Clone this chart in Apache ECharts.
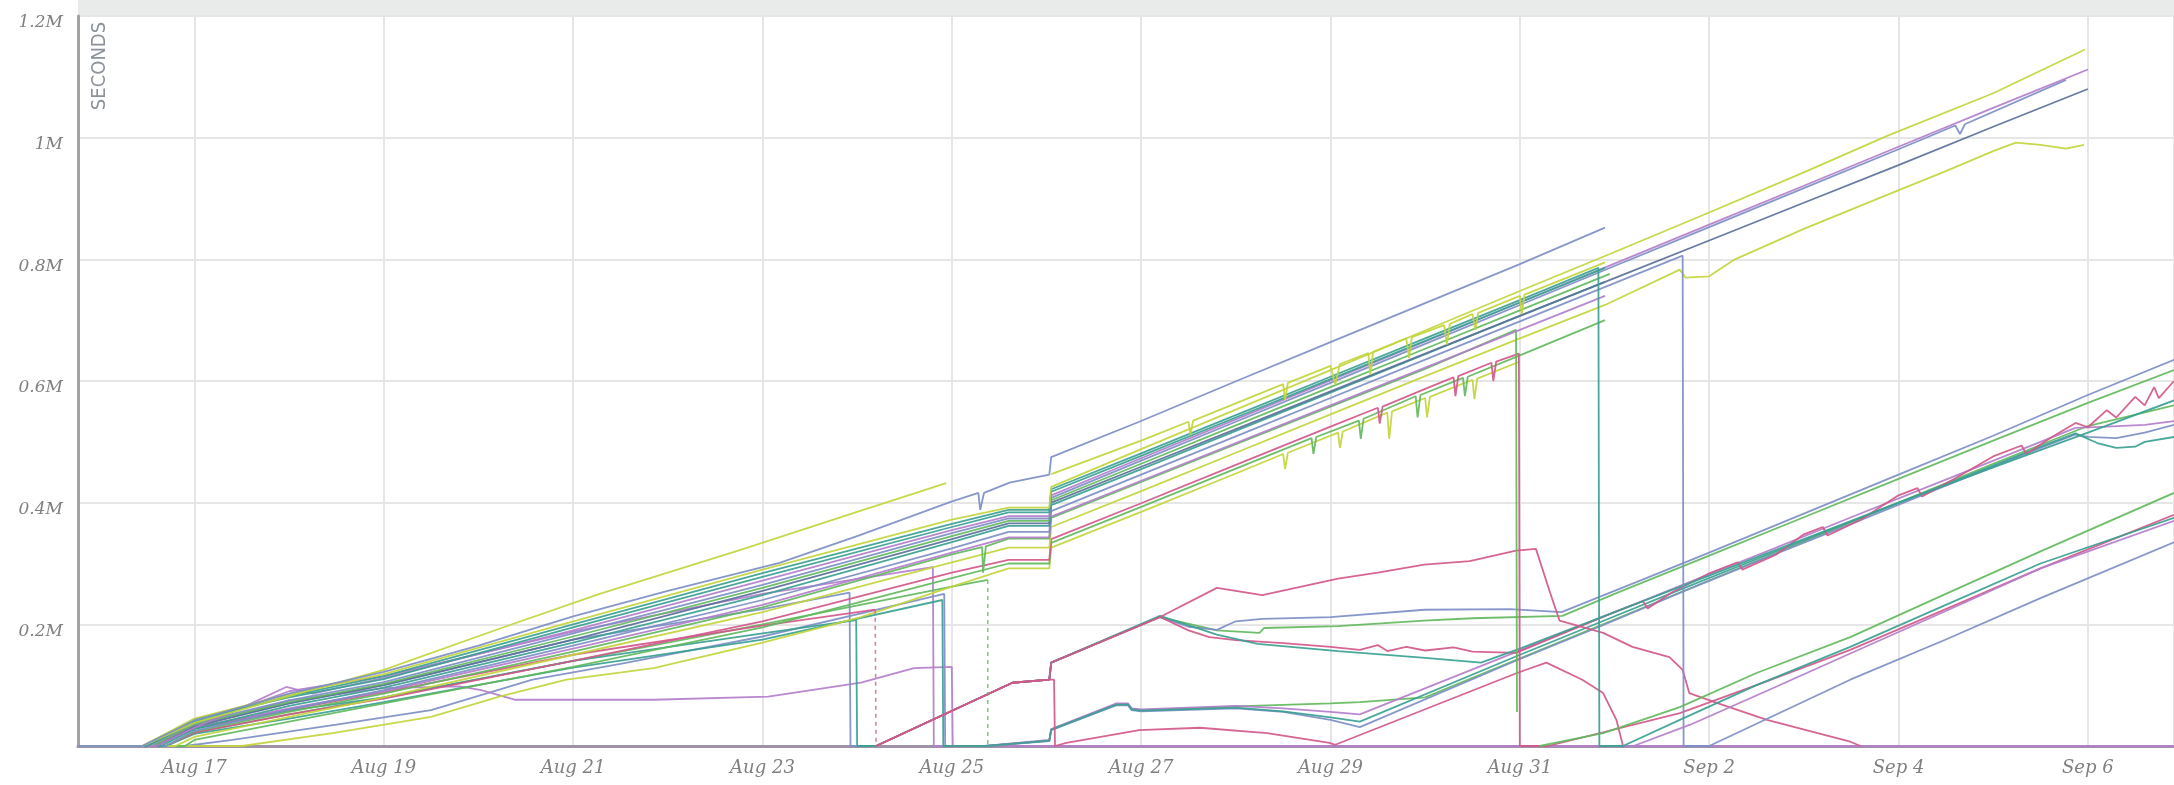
<!DOCTYPE html>
<html>
<head>
<meta charset="utf-8">
<title>Accumulated seconds per run</title>
<script src="https://cdn.jsdelivr.net/npm/echarts@6/dist/echarts.min.js"></script>
<style>
  html, body { margin: 0; padding: 0; background: #ffffff; }
  #chart { width: 2174px; height: 785px; }
</style>
</head>
<body>
<div id="chart"></div>
<script>
// x: days since Aug 1 00:00 (Aug 17 = 16, Sep 1 = 31); y: thousands of seconds
const dateTicks = ['Aug 17', 'Aug 19', 'Aug 21', 'Aug 23', 'Aug 25', 'Aug 27', 'Aug 29', 'Aug 31', 'Sep 2', 'Sep 4', 'Sep 6'];
const valueTicks = ['', '0.2M', '0.4M', '0.6M', '0.8M', '1M', '1.2M'];

// early runs that stop between Aug 23 and Aug 25
const baselinePurple = [[14.77,0],[15.55,0],[16,34],[17,90],[18,115],[20,188],[22,250],[23.8,294],[23.81,0],[36.91,0]];
const topLime = [[14.77,0],[15.45,0],[16,38],[17,82],[18,125],[19.28,196],[20.28,250],[21.76,322],[23,385],[23.94,432]];
const topBlue = [[14.77,0],[15.45,0],[16,42],[17,86],[18,122],[19,165],[20,213],[21,255],[22.18,301],[23,345],[23.98,401],[24.28,416],[24.3,388],[24.34,416],[24.61,433],[25.03,446],[25.05,475],[25.98,533],[27.04,602],[28,664],[29,728],[30,792],[30.9,852]];
const upperSpikyLime = [[25.05,447],[26,502],[26.5,533],[26.52,512],[26.55,535],[27.5,595],[27.52,568],[27.55,597],[28,625],[28.05,594],[28.1,628],[28.4,646],[28.42,610],[28.45,648],[28.8,670],[28.83,638],[28.86,672],[29.2,692],[29.23,660],[29.26,694],[29.5,710],[29.53,684],[29.56,712],[30,740],[30.02,710],[30.05,742],[30.5,770],[30.9,795]];

// main group: step on Aug 26, most stop around Sep 1
const lime01 = [[14.77,0],[15.45,0],[16,45],[17,85],[18,118],[20,205],[22,290],[24,372],[24.6,392],[25.03,392],[25.05,426],[26,488],[27,553],[28,618],[29,683],[30,748],[30.97,810],[32,877],[33,943],[33.88,1003],[35,1073],[35.97,1145]];
const teal02 = [[14.77,0],[15.5,0],[16,40],[17,82],[18,115],[20,200],[22,284],[24,365],[24.6,388],[25.03,388],[25.05,422],[26,481],[27,544],[28,607],[29,670],[30,733],[30.83,786],[30.84,0],[31.09,0],[31.69,43],[32.5,100],[33.49,163],[34.5,232],[35.5,300],[36.91,375]];
const teal03 = [[14.77,0],[15.45,0],[16,44],[17,80],[18,110],[20,195],[22,278],[24,360],[24.6,384],[25.03,384],[25.05,418],[26,477],[27,540],[28,603],[29,666],[30,729],[30.9,786]];
const purple04 = [[14.77,0],[15.6,0],[16,30],[16.6,70],[16.97,97],[17.25,86],[18,112],[20,190],[22,272],[24,355],[24.6,378],[25.03,378],[25.05,412],[26,473],[27,537],[28,601],[29,665],[30,729],[31,793],[32,857],[33,921],[34,985],[35,1049],[36,1112]];
const blue05 = [[14.77,0],[15.5,0],[16,38],[17,75],[18,105],[20,185],[22,265],[24,350],[24.6,374],[25.03,374],[25.05,408],[26,469],[27,533],[28,597],[29,661],[30,725],[31,789],[32,853],[33,917],[34,981],[34.6,1020],[34.65,1006],[34.7,1022],[35.77,1095]];
const green06 = [[14.77,0],[15.55,0],[16,36],[17,72],[18,102],[20,180],[22,260],[24,345],[24.6,370],[25.03,370],[25.05,404],[26,464],[27,527],[28,590],[29,653],[30,716],[30.95,776]];
const slate07 = [[14.77,0],[15.6,0],[16,32],[17,70],[18,100],[20,175],[22,255],[24,340],[24.6,366],[25.03,366],[25.05,400],[26,459],[27,521],[28,583],[29,645],[30,707],[31,769],[32,831],[33,893],[34,955],[35,1018],[36,1080]];
const teal08 = [[14.77,0],[15.65,0],[16,28],[17,66],[18,96],[20,170],[22,248],[24,335],[24.6,362],[25.03,362],[25.05,396],[26,455],[27,518],[28,581],[29,644],[30,707],[30.9,763]];
const blue09 = [[14.77,0],[15.7,0],[16,25],[17,60],[18,92],[20,165],[22,240],[24,325],[24.6,352],[25.03,352],[25.05,386],[26,446],[27,509],[28,572],[29,635],[30,698],[31,761],[31.72,806],[31.73,0],[32,0],[33.49,109],[34.5,175],[35.5,243],[36.91,335]];
const purple10 = [[14.77,0],[15.6,0],[16,30],[17,62],[18,90],[20,160],[22,232],[24,318],[24.6,343],[25.03,343],[25.05,377],[26,436],[27,498],[28,560],[29,622],[30,684],[30.9,740]];
const green11 = [[14.77,0],[15.7,0],[16,24],[17,56],[18,86],[20,155],[22,228],[24,315],[24.32,327],[24.33,285],[24.36,328],[24.6,341],[25.03,341],[25.05,375],[26,434],[27,496],[28,558],[29,620],[29.96,684],[29.97,56]];
const lime12 = [[14.77,0],[15.8,0],[16,15],[17,48],[18,80],[20,150],[22,220],[24,302],[24.6,326],[25.03,326],[25.05,360],[26,419],[27,482],[28,545],[29,608],[30,670],[30.9,725],[31.69,783],[31.75,770],[32,772],[32.26,799],[33,850],[33.88,906],[34.5,945],[35,978],[35.24,992],[35.5,988],[35.77,982],[35.96,988]];
const pink13 = [[14.77,0],[15.7,0],[16,22],[17,52],[18,78],[20,140],[22,205],[24,285],[24.6,306],[25.03,306],[25.05,340],[26,399],[27,462],[28,525],[28.5,556],[28.52,530],[28.55,558],[29,587],[29.3,606],[29.32,575],[29.35,608],[29.7,630],[29.72,600],[29.75,632],[29.99,645],[30,0],[30.3,0],[31.69,54],[32.5,100],[33.49,158],[34.5,225],[35.5,292],[36.91,380]];
const green14 = [[14.77,0],[15.9,0],[16,10],[17,40],[18,70],[20,130],[22,195],[24,276],[24.6,300],[25.03,300],[25.05,334],[26,393],[27,456],[27.8,506],[27.82,480],[27.85,508],[28.3,535],[28.32,505],[28.35,538],[28.9,575],[28.92,540],[28.95,577],[29.4,605],[29.42,575],[29.45,607],[30,642],[30.9,700]];
const lime15 = [[14.77,0],[16.5,0],[17.46,21],[18.5,48],[19.22,81],[19.93,109],[20.85,128],[22,170],[23.04,212],[24,262],[24.6,292],[25.03,292],[25.05,326],[26,385],[27,448],[27.5,480],[27.52,455],[27.55,482],[28.08,515],[28.1,490],[28.13,517],[28.6,548],[28.62,505],[28.65,550],[29,572],[29.02,540],[29.05,574],[29.5,602],[29.52,570],[29.55,604],[30,632]];

// runs restarted on Aug 24
const restartBlue = [[14.77,0],[15.5,0],[16,35],[17,70],[18,100],[20,175],[22,225],[22.92,252],[22.93,0],[23.2,0],[24.64,104],[25.03,109],[25.05,137],[26.2,212],[26.5,196],[26.8,191],[27,205],[27.28,209],[28,212],[28.99,224],[29.9,225],[30.44,220],[31.29,273],[32,318],[33,382],[34,446],[35,510],[36,577],[36.91,635]];
const restartTeal = [[14.77,0],[15.6,0],[16,28],[17,58],[18,80],[20,140],[22,185],[22.99,207],[23,0],[23.2,0],[24.64,104],[25.03,109],[25.05,137],[26.2,214],[26.8,183],[27.23,168],[28.08,156],[29,145],[29.59,137],[30,160],[31,220],[32,280],[33,340],[34,400],[35,458],[36,515],[36.91,568]];
const restartGreen = [[23.2,0],[24.64,104],[25.03,109],[25.05,137],[26.2,212],[26.8,190],[27.25,186],[27.3,194],[28.08,197],[28.99,206],[29.5,210],[30.45,214],[31,250],[32,313],[33,376],[34,439],[35,502],[36,564],[36.91,618]];
const pinkEarly = [[14.77,0],[15.6,0],[16,30],[17,60],[18,88],[20,150],[22,198],[23.19,224]];
const pinkGap = [[23.19,224],[23.2,0]];
const pinkLate = [[23.2,0],[24.64,104],[25.03,109],[25.05,137],[26.2,212],[26.8,260],[27.28,248],[28.08,275],[28.5,285],[28.99,298],[29.47,304],[29.96,321],[30.17,324],[30.32,252],[30.42,206],[30.88,186],[31.19,163],[31.58,146],[31.72,125],[31.79,87],[32.08,71],[32.61,43],[33.49,7],[33.6,0]];
const pinkNoisy = [[23.2,0],[24.64,104],[25.03,109],[25.05,137],[26.2,212],[26.5,190],[26.72,179],[27,174],[27.5,169],[28,163],[28.31,158],[28.5,166],[28.6,156],[28.8,163],[29,157],[29.3,162],[29.5,155],[29.96,153],[30.5,188],[31,220],[31.3,238],[31.35,226],[31.6,252],[32,284],[32.3,302],[32.35,290],[32.7,314],[33,348],[33.2,360],[33.25,346],[33.6,372],[34,412],[34.2,424],[34.25,410],[34.6,440],[35,476],[35.3,494],[35.35,480],[35.6,506],[35.87,531],[36,524],[36.2,552],[36.3,540],[36.5,574],[36.6,560],[36.7,590],[36.75,572],[36.91,600]];
const pinkHump = [[23.2,0],[24.64,104],[25.03,109],[25.08,109],[25.09,0],[25.21,5],[25.98,26],[26.62,30],[27.33,21],[27.99,5],[28.05,2],[29.97,120],[30.28,137],[30.66,109],[30.88,87],[31.02,43],[31.09,0]];

// runs restarted on Aug 25
const lowBlue = [[14.77,0],[15.9,0],[16.4,10],[17.5,35],[18.5,59],[19.57,109],[20.5,135],[22,180],[23.92,250],[23.93,0],[24.35,0],[25.03,8],[25.05,26],[25.74,67],[25.86,67],[25.9,59],[26,57],[27,62],[27.5,56],[28,43],[28.31,31],[29.97,141],[30.84,196],[31.74,255],[32.61,310],[33.5,365],[34.5,428],[35.5,490],[35.87,512],[36,508],[36.3,506],[36.6,515],[36.91,528]];
const lowTeal = [[14.77,0],[15.7,0],[16,20],[17,45],[18,72],[20,129],[22,175],[23.9,240],[23.91,0],[24.35,0],[25.03,9],[25.05,27],[25.74,68],[25.86,68],[25.9,60],[26,58],[27,63],[27.5,57],[28,47],[28.31,40],[29.97,148],[30.84,203],[31.74,260],[32.61,314],[33.5,369],[34.5,430],[35.5,492],[35.87,514],[36.1,498],[36.3,490],[36.5,492],[36.6,500],[36.91,508]];
const lonePurple = [[14.77,0],[15.55,0],[16,32],[17,75],[18,95],[18.8,98],[19.03,92],[19.39,76],[20.85,76],[22.06,81],[23.04,104],[23.6,128],[24,130],[24.01,0],[24.35,0],[25.03,10],[25.05,28],[25.74,70],[25.86,70],[25.9,62],[26,60],[27,66],[27.5,62],[28,56],[28.31,52],[29.97,155],[30.84,210],[31.74,266],[32.61,320],[33.5,376],[34.5,438],[35.5,500],[35.87,523],[36.2,525],[36.6,528],[36.91,534]];
const lowGreenEarly = [[14.77,0],[15.7,0],[16,22],[17,52],[18,80],[20,140],[22,200],[24,262],[24.38,273]];
const greenGap = [[24.38,273],[24.38,0]];
const lowGreen = [[24.38,0],[25.03,9],[25.05,27],[25.74,69],[25.86,69],[25.9,61],[26,59],[27,65],[28,70],[28.31,72],[29,80],[29.97,142],[31,208],[32,272],[33,336],[34,400],[35,464],[36,526],[36.91,560]];

// runs started after Aug 31
const lateGreen = [[30.21,0],[30.88,21],[31.69,64],[32.5,120],[33.49,179],[34.5,250],[35.5,320],[36.91,416]];
const latePurple = [[31.2,0],[31.8,35],[32.6,90],[33.49,152],[34.5,222],[35.5,292],[36.91,370]];

const LIME = '#c2d53c';
const BLUE = '#7d8ec5';
const PURPLE = '#b37ecb';
const PINK = '#d2588a';
const TEAL = '#3aa193';
const GREEN = '#62b85d';
const SLATE = '#5b7199';

const runs = [
  [baselinePurple, PURPLE],
  [lowGreenEarly, GREEN], [lowGreen, GREEN], [lowBlue, BLUE], [lonePurple, PURPLE], [lowTeal, TEAL],
  [restartGreen, GREEN], [restartBlue, BLUE], [pinkNoisy, PINK], [restartTeal, TEAL],
  [pinkHump, PINK], [pinkLate, PINK], [pinkEarly, PINK],
  [lime15, LIME], [green14, GREEN], [pink13, PINK], [lime12, LIME], [green11, GREEN],
  [purple10, PURPLE], [blue09, BLUE], [teal08, TEAL], [slate07, SLATE], [green06, GREEN],
  [blue05, BLUE], [purple04, PURPLE], [teal03, TEAL], [teal02, TEAL], [lime01, LIME],
  [topLime, LIME], [topBlue, BLUE], [upperSpikyLime, LIME],
  [lateGreen, GREEN], [latePurple, PURPLE]
];
const gaps = [[pinkGap, PINK], [greenGap, GREEN]];

const series = runs.map(([data, color]) => ({
  type: 'line',
  data: data,
  showSymbol: false,
  silent: true,
  lineStyle: { color: color, width: 1.8, opacity: 0.92 },
  itemStyle: { color: color }
})).concat(gaps.map(([data, color]) => ({
  type: 'line',
  data: data,
  showSymbol: false,
  silent: true,
  lineStyle: { color: color, width: 1.5, type: [4, 4], opacity: 0.8 },
  itemStyle: { color: color }
})));

const chart = echarts.init(document.getElementById('chart'), null, { renderer: 'canvas' });
chart.setOption({
  animation: false,
  backgroundColor: '#ffffff',
  grid: { left: 78, right: 0, top: 16, bottom: 39, containLabel: false },
  xAxis: {
    type: 'value',
    min: 14.77,
    max: 36.91,
    minInterval: 2,
    maxInterval: 2,
    splitNumber: 11,
    axisLine: { show: true, onZero: false, lineStyle: { color: '#a092a6', width: 3 } },
    axisTick: { show: false },
    splitLine: { show: true, lineStyle: { color: '#e6e6e6', width: 2 } },
    axisLabel: {
      showMinLabel: false,
      showMaxLabel: false,
      margin: 13,
      color: '#808080',
      fontFamily: 'DejaVu Serif',
      fontStyle: 'italic',
      fontSize: 18,
      formatter: function (v) {
        const i = Math.round((v - 16) / 2);
        if (Math.abs(v - (16 + 2 * i)) > 1e-6) return '';
        return dateTicks[i] || '';
      }
    }
  },
  yAxis: {
    type: 'value',
    min: 0,
    max: 1200,
    interval: 200,
    axisLine: { show: true, lineStyle: { color: '#a3a3a3', width: 3 } },
    axisTick: { show: false },
    splitLine: { show: true, lineStyle: { color: '#e6e6e6', width: 2 } },
    axisLabel: {
      margin: 15,
      color: '#808080',
      fontFamily: 'DejaVu Serif',
      fontStyle: 'italic',
      fontSize: 17,
      verticalAlign: 'top',
      lineHeight: 14,
      formatter: function (v) { return valueTicks[Math.round(v / 200)] || ''; }
    }
  },
  graphic: [
    { type: 'rect', left: 78, top: 0, shape: { width: 2096, height: 15 }, style: { fill: '#e9ebea' }, silent: true },
    {
      type: 'text', x: 100, y: 66, rotation: Math.PI / 2, silent: true,
      style: {
        text: 'SECONDS', fill: '#8b929a',
        font: '20px "DejaVu Sans Condensed", "Liberation Sans Narrow", sans-serif',
        textAlign: 'center', textVerticalAlign: 'middle'
      }
    }
  ],
  series: series
});
</script>
</body>
</html>
